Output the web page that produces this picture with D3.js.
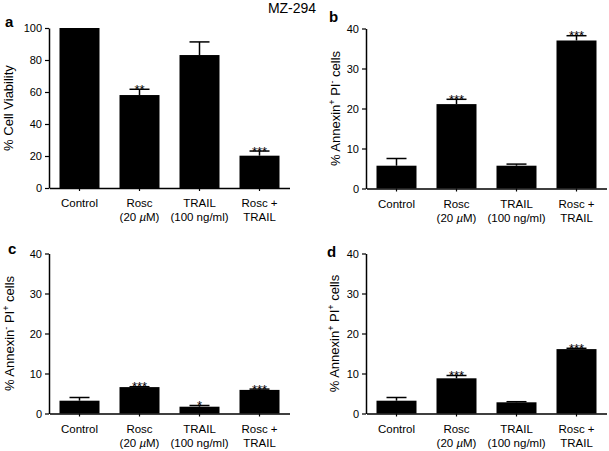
<!DOCTYPE html>
<html><head><meta charset="utf-8">
<script src="https://cdn.jsdelivr.net/npm/d3@7"></script>
<style>
body{margin:0;background:#fff;}
svg{display:block;font-family:Arial,"Liberation Sans",sans-serif;}
</style></head>
<body><svg id="c" width="609" height="451"></svg>
<script>
const title = "MZ-294";
const categories = ["Control", "Rosc (20 µM)", "TRAIL (100 ng/ml)", "Rosc + TRAIL"];
const catLine1 = ["Control", "Rosc", "TRAIL", "Rosc +"];
const catLine2 = ["", "(20 |µ|M)", "(100 ng/ml)", "TRAIL"];

const viability      = [100, 58.1, 83.1, 20.2];
const viabilityErr   = [0, 3.6, 8.2, 2.9];
const viabilityStars = ["", "**", "", "***"];

const annexinPosPINeg      = [5.7, 21.1, 5.7, 37.0];
const annexinPosPINegErr   = [1.8, 1.2, 0.4, 1.2];
const annexinPosPINegStars = ["", "***", "", "***"];

const annexinNegPIPos      = [3.2, 6.6, 1.7, 5.9];
const annexinNegPIPosErr   = [0.8, 0.1, 0.3, 0.2];
const annexinNegPIPosStars = ["", "***", "*", "***"];

const annexinPosPIPos      = [3.2, 8.8, 2.8, 16.1];
const annexinPosPIPosErr   = [0.8, 0.7, 0.15, 0.2];
const annexinPosPIPosStars = ["", "***", "", "***"];

const ticksViability = [0, 20, 40, 60, 80, 100];
const ticksAnnexin = [0, 10, 20, 30, 40];

const svg = d3.select("#c");
svg.append("text").attr("x", 292).attr("y", 13).attr("text-anchor", "middle")
  .attr("font-size", 14).text(title);

const panels = [
  {letter:"a", lx:5, ly:27, x0:49, yTop:28, yBot:188, max:100, ticks:ticksViability,
   vals:viability, err:viabilityErr, stars:viabilityStars, labelX:13,
   ylab:[["% Cell Viability",""]]},
  {letter:"b", lx:329, ly:22, x0:366, yTop:28.5, yBot:188.5, max:40, ticks:ticksAnnexin,
   vals:annexinPosPINeg, err:annexinPosPINegErr, stars:annexinPosPINegStars, labelX:340,
   ylab:[["% Annexin",""],["+","sup"],[" PI",""],["-","sup"],[" cells",""]]},
  {letter:"c", lx:8, ly:254, x0:49, yTop:253.5, yBot:413.5, max:40, ticks:ticksAnnexin,
   vals:annexinNegPIPos, err:annexinNegPIPosErr, stars:annexinNegPIPosStars, labelX:14,
   ylab:[["% Annexin",""],["-","sup"],[" PI",""],["+","sup"],[" cells",""]]},
  {letter:"d", lx:327, ly:257, x0:366, yTop:253.5, yBot:413.5, max:40, ticks:ticksAnnexin,
   vals:annexinPosPIPos, err:annexinPosPIPosErr, stars:annexinPosPIPosStars, labelX:339,
   ylab:[["% Annexin",""],["+","sup"],[" PI",""],["+","sup"],[" cells",""]]}
];

panels.forEach(p => {
  const g = svg.append("g");
  const x = d3.scaleBand().domain(categories).range([p.x0 + 0.5, p.x0 + 240.5])
    .paddingInner(1/3).paddingOuter(1/6);
  const y = d3.scaleLinear().domain([0, p.max]).range([p.yBot, p.yTop]);

  // bars
  g.selectAll("rect.bar").data(p.vals).enter().append("rect")
    .attr("x", (d,i) => x(categories[i])).attr("width", x.bandwidth())
    .attr("y", d => y(d)).attr("height", d => y(0) - y(d)).attr("fill", "#000");

  // error bars
  p.vals.forEach((v,i) => {
    if (!p.err[i]) return;
    const cx = x(categories[i]) + x.bandwidth()/2;
    const cw = x.bandwidth()/4;
    g.append("line").attr("x1", cx).attr("x2", cx).attr("y1", y(v)).attr("y2", y(v + p.err[i]))
      .attr("stroke", "#000").attr("stroke-width", 1.5);
    g.append("line").attr("x1", cx - cw).attr("x2", cx + cw)
      .attr("y1", y(v + p.err[i])).attr("y2", y(v + p.err[i]))
      .attr("stroke", "#000").attr("stroke-width", 1.5);
    if (p.stars[i]) {
      g.append("text").attr("x", cx).attr("y", y(v + p.err[i]) + 4.6)
        .attr("text-anchor", "middle").attr("font-size", 13).text(p.stars[i]);
    }
  });

  // y axis
  const ya = g.append("g").attr("transform", `translate(${p.x0},0)`)
    .call(d3.axisLeft(y).tickValues(p.ticks).tickSize(4).tickSizeOuter(0).tickPadding(3));
  ya.select(".domain").attr("stroke-width", 1.5);
  ya.selectAll(".tick line").attr("stroke-width", 1.2);
  ya.selectAll(".tick text").attr("font-size", 11).attr("font-family", "Arial,'Liberation Sans',sans-serif");

  // x axis
  const xa = g.append("g").attr("transform", `translate(0,${p.yBot})`)
    .call(d3.axisBottom(x).tickSize(3).tickSizeOuter(0).tickFormat(""));
  xa.select(".domain").attr("stroke-width", 1.5);
  xa.selectAll(".tick line").attr("stroke-width", 1.2);

  // category labels
  categories.forEach((c,i) => {
    const cx = x(c) + x.bandwidth()/2;
    g.append("text").attr("x", cx).attr("y", p.yBot + 19).attr("text-anchor", "middle")
      .attr("font-size", 11.5).text(catLine1[i]);
    if (catLine2[i]) {
      const t = g.append("text").attr("x", cx).attr("y", p.yBot + 33).attr("text-anchor", "middle")
        .attr("font-size", 11.5);
      catLine2[i].split("|").forEach((part, k) => {
        const ts = t.append("tspan").text(part);
        if (k === 1) ts.attr("font-style", "italic");
      });
    }
  });

  // y label
  const yl = g.append("text").attr("transform", `translate(${p.labelX},${(p.yTop + p.yBot)/2}) rotate(-90)`)
    .attr("text-anchor", "middle").attr("font-size", 13);
  p.ylab.forEach(([s, kind]) => {
    const ts = yl.append("tspan").text(s);
    if (kind === "sup") ts.attr("font-size", 9).attr("dy", -5);
    else if (yl.selectAll("tspan").size() > 1) ts.attr("dy", 5);
  });

  // panel letter
  g.append("text").attr("x", p.lx).attr("y", p.ly).attr("font-size", 15)
    .attr("font-weight", "bold").text(p.letter);
});
</script></body></html>
